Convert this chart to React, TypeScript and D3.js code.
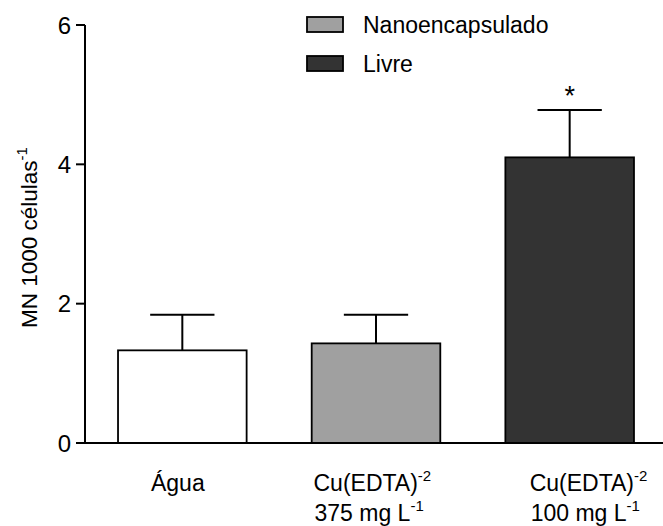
import React from "react";
import * as d3 from "d3";

const categories = ["Água", "Cu375", "Cu100"];
const labelLine1 = ["Água", "Cu(EDTA)", "Cu(EDTA)"];
const labelSup1 = ["", "-2", "-2"];
const labelLine2 = ["", "375 mg L", "100 mg L"];
const labelSup2 = ["", "-1", "-1"];
const means = [1.33, 1.43, 4.1];
const errors = [0.51, 0.41, 0.68];
const significant = [false, false, true];
const fills = ["#ffffff", "#a0a0a0", "#333333"];
const yTicks = [0, 2, 4, 6];
const legendLabels = ["Nanoencapsulado", "Livre"];
const legendFills = ["#a0a0a0", "#333333"];

const W = 663;
const H = 526;
const FONT = "'Liberation Sans', Arial, Helvetica, sans-serif";

export default function App() {
  const y = d3.scaleLinear().domain([0, 6]).range([443, 25]);
  const x = d3
    .scaleBand<string>()
    .domain(categories)
    .range([85, 667])
    .paddingInner(0.336)
    .paddingOuter(0.1705);
  const bw = x.bandwidth();
  const axisX = 85;
  // label layout: anchor and offset relative to band center
  const labelAnchor = ["middle", "start", "start"];
  const labelDx = [-4.5, -62.5, -40];

  return (
    <svg
      width={W}
      height={H}
      style={{ position: "absolute", left: 0, top: 0, background: "#fff" }}
      fontFamily={FONT}
    >
      {/* bars */}
      {categories.map((c, i) => {
        const x0 = x(c)!;
        const cx = x0 + bw / 2;
        const top = y(means[i]);
        const errTop = y(means[i] + errors[i]);
        return (
          <g key={c}>
            <line x1={cx} x2={cx} y1={top} y2={errTop} stroke="#000" strokeWidth={2} />
            <line x1={cx - bw / 4} x2={cx + bw / 4} y1={errTop} y2={errTop} stroke="#000" strokeWidth={2} />
            <rect
              x={x0}
              y={top}
              width={bw}
              height={y(0) - top}
              fill={fills[i]}
              stroke="#000"
              strokeWidth={1.8}
            />
            {significant[i] && (
              <text x={cx} y={errTop - 5} textAnchor="middle" fontSize={27} fill="#000">
                *
              </text>
            )}
          </g>
        );
      })}

      {/* axes */}
      <line x1={axisX} x2={axisX} y1={y(6)} y2={y(0)} stroke="#000" strokeWidth={2} />
      <line x1={axisX - 1} x2={W} y1={y(0)} y2={y(0)} stroke="#000" strokeWidth={2} />
      {yTicks.map((t) => (
        <g key={t}>
          <line x1={axisX - 9} x2={axisX} y1={y(t)} y2={y(t)} stroke="#000" strokeWidth={2} />
          <text
            x={axisX - 14}
            y={y(t)}
            dy="0.36em"
            textAnchor="end"
            fontSize={24}
            fill="#000"
          >
            {t}
          </text>
        </g>
      ))}

      {/* y axis title */}
      <text transform="translate(37,328) rotate(-90)" fontSize={22.5} fill="#000">
        MN 1000 células
        <tspan fontSize={15} dy={-10}>
          -1
        </tspan>
      </text>

      {/* x labels */}
      {categories.map((c, i) => {
        const cx = x(c)! + bw / 2 + labelDx[i];
        return (
          <g key={"lab" + c}>
            <text x={cx} y={491} textAnchor={labelAnchor[i] as any} fontSize={23} fill="#000">
              {labelLine1[i]}
              {labelSup1[i] && (
                <tspan fontSize={15} dy={-10}>
                  {labelSup1[i]}
                </tspan>
              )}
            </text>
            {labelLine2[i] && (
              <text x={cx + 1} y={521} textAnchor={labelAnchor[i] as any} fontSize={23} fill="#000">
                {labelLine2[i]}
                <tspan fontSize={15} dy={-10}>
                  {labelSup2[i]}
                </tspan>
              </text>
            )}
          </g>
        );
      })}

      {/* legend */}
      {legendLabels.map((l, i) => (
        <g key={l} transform={`translate(307,${17 + i * 39})`}>
          <rect x={0} y={0} width={36} height={15} fill={legendFills[i]} stroke="#000" strokeWidth={1.8} />
          <text x={56} y={16} fontSize={23} fill="#000">
            {l}
          </text>
        </g>
      ))}
    </svg>
  );
}
